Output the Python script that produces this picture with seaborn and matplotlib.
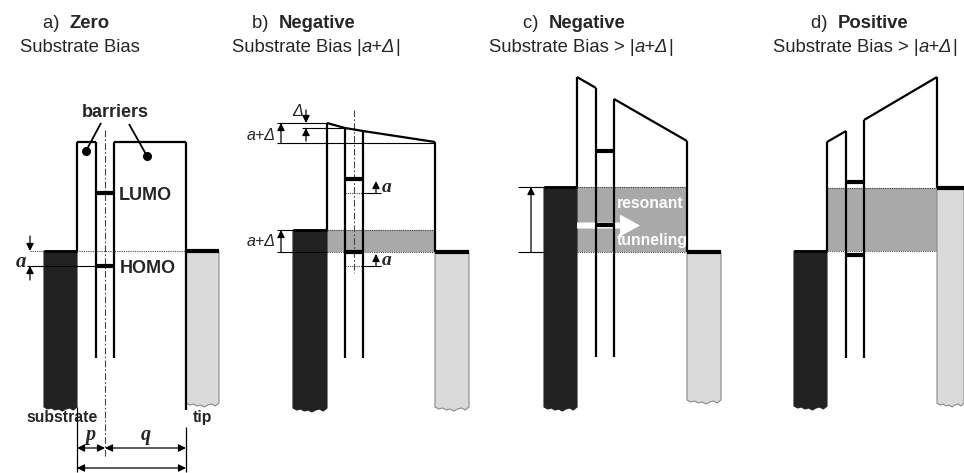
import matplotlib
matplotlib.use('Agg')
import matplotlib.pyplot as plt
import seaborn as sns

# ---- panel geometry, in picture pixels (y grows downward) ----
panel_letters = ['a)', 'b)', 'c)', 'd)']
panel_bias = ['Zero', 'Negative', 'Negative', 'Positive']
title_x = [43, 252, 523, 811]
subtitle_x = [20, 232, 489, 773]
subtitle_pre = ['Substrate Bias', 'Substrate Bias |', 'Substrate Bias > |', 'Substrate Bias > |']

sub_left = [44, 293, 544, 794]
sub_right = [77, 327, 577, 827]
sub_top = [251, 230, 187, 251]
sub_bottom = [407, 408, 407, 406]
tip_left = [186, 435, 687, 937]
tip_right = [219, 469, 721, 964]
tip_top = [251, 252, 252, 188]
tip_bottom = [403, 407, 400, 403]
well_left = [96, 345, 596, 846]
well_right = [114, 363, 614, 864]
well_bottom = [358, 358, 357, 358]
top_outer_left = [142, 123, 77, 142]
top_well_left = [142, 128, 88, 131]
top_well_right = [142, 131, 99, 120]
top_outer_right = [142, 142, 141, 77]
level_upper = [193, 179, 151, 182]
level_lower = [266, 252, 225, 255]
band_top = [251, 230, 187, 188]
band_bottom = [251, 252, 252, 251]

# torn lower edge of the electrodes
jag = [0, 2, 1, 3, 2, 4, 2, 1, 3, 0]

DARK = '#222222'
TIP = '#dadada'
BAND = '#a9a9a9'
LW = 1.6

sns.set_style('white')
plt.rcParams['font.family'] = ['Liberation Sans', 'DejaVu Sans']

fig = plt.figure(figsize=(9.64, 4.73), dpi=100)
ax = fig.add_axes([0, 0, 1, 1])
ax.set_xlim(0, 964)
ax.set_ylim(473, 0)
ax.axis('off')


def seg(x0, y0, x1, y1, lw=LW, color='k', z=4, **kw):
    ax.plot([x0, x1], [y0, y1], color=color, lw=lw, zorder=z,
            solid_capstyle='butt', **kw)


def arrow(x0, y0, x1, y1, style='-|>', lw=0.9):
    ax.annotate('', xy=(x1, y1), xytext=(x0, y0),
                arrowprops=dict(arrowstyle=style, color='k', lw=lw,
                                mutation_scale=11, shrinkA=0, shrinkB=0),
                zorder=6)


def block(x0, x1, top, bottom, fc, ec):
    n = len(jag)
    xs = [x0 + (x1 - x0) * k / (n - 1) for k in range(n)]
    px = [x0] + xs + [x1]
    py = [top] + [bottom + j for j in jag] + [top]
    ax.fill(px + [x0], py + [top], fc=fc, ec=ec, lw=0.8, zorder=3)


def rich_text(x, y, parts, size):
    t = ax.text(x, y, parts[0][0], fontsize=size, va='baseline', ha='left',
                zorder=7, **parts[0][1])
    for s, kw in parts[1:]:
        t = ax.annotate(s, xy=(1, 0), xycoords=t, va='bottom', ha='left',
                        fontsize=size, zorder=7, **kw)
    return t


serif_a = dict(family='Liberation Serif', style='italic', weight='bold')
dotted = dict(color='#444444', lw=0.8, ls=(0, (1, 1)), zorder=2)
dashdot = dict(color='#444444', lw=0.8, ls=(0, (6, 2, 1.5, 2)), zorder=2)

for i in range(4):
    # titles
    rich_text(title_x[i], 28.5, [(panel_letters[i] + '  ', {}),
                                 (panel_bias[i], dict(weight='bold'))], 13.3)
    if i == 0:
        rich_text(subtitle_x[i], 52, [(subtitle_pre[i], {})], 13.3)
    else:
        rich_text(subtitle_x[i], 52, [(subtitle_pre[i], {}),
                                      ('a+Δ', dict(style='italic')),
                                      ('|', {})], 13.3)

    # occupied band between the electrodes
    if band_bottom[i] > band_top[i]:
        ax.fill_between([sub_right[i], tip_left[i]], band_top[i], band_bottom[i],
                        color=BAND, lw=0, zorder=1)
        for yb in (band_top[i], band_bottom[i]):
            ax.plot([sub_right[i], tip_left[i]], [yb, yb], **dotted)

    # electrodes
    block(sub_left[i], sub_right[i], sub_top[i], sub_bottom[i], DARK, DARK)
    block(tip_left[i], tip_right[i], tip_top[i], tip_bottom[i], TIP, '#8a8a8a')
    seg(tip_left[i], tip_top[i], tip_right[i], tip_top[i], lw=3, z=5)
    seg(sub_left[i], sub_top[i], sub_right[i], sub_top[i], lw=2, z=5)

    # barrier walls and tops
    seg(sub_right[i], top_outer_left[i], sub_right[i], sub_top[i])
    seg(well_left[i], top_well_left[i], well_left[i], well_bottom[i])
    seg(well_right[i], top_well_right[i], well_right[i], well_bottom[i])
    seg(tip_left[i], top_outer_right[i], tip_left[i], tip_top[i])
    seg(sub_right[i], top_outer_left[i], well_left[i], top_well_left[i])
    seg(well_right[i], top_well_right[i], tip_left[i], top_outer_right[i])

    # molecular levels
    for yl in (level_upper[i], level_lower[i]):
        seg(well_left[i], yl, well_right[i], yl, lw=3, z=5)

# ---------------- panel a extras ----------------
ax.text(115.5, 117, 'barriers', fontsize=13, weight='bold', ha='center', va='baseline')
seg(101, 123, 86, 151, lw=1.3)
seg(129, 124, 147, 156, lw=1.3)
ax.plot([86, 147], [151, 156], 'o', color='k', ms=5.5, zorder=6)
ax.text(119, 200, 'LUMO', fontsize=13, weight='bold', va='baseline')
ax.text(120, 273, 'HOMO', fontsize=13, weight='bold', va='baseline')
ax.plot([30, 186], [251, 251], **dotted)
seg(27, 266, 96, 266, lw=0.8)
arrow(30, 236, 30, 251)
arrow(30, 280, 30, 266)
ax.text(21, 262, 'a', fontsize=15, ha='center', va='center', **serif_a)
ax.plot([105, 105], [130, 457], **dashdot)
seg(186, 251, 186, 410)
seg(77, 407, 77, 472, lw=0.9)
seg(186, 427, 186, 472, lw=0.9)
ax.text(26, 422, 'substrate', fontsize=11.3, weight='bold', va='baseline')
ax.text(193, 422, 'tip', fontsize=11.3, weight='bold', va='baseline')
arrow(77, 448, 105, 448, style='<|-|>')
arrow(105, 448, 186, 448, style='<|-|>')
arrow(77, 468, 186, 468, style='<|-|>')
ax.text(91, 440, 'p', fontsize=14.5, ha='center', va='baseline', **serif_a)
ax.text(146, 440, 'q', fontsize=14.5, ha='center', va='baseline', **serif_a)

# ---------------- panel b extras ----------------
seg(345, 128, 363, 131)
seg(277, 123, 327, 123, lw=0.8)
seg(277, 143, 435, 143, lw=0.8)
seg(302, 128, 345, 128, lw=0.8)
arrow(281, 143, 281, 123)
arrow(306, 110, 306, 123)
arrow(306, 141, 306, 128)
ax.text(276, 135, 'a+Δ', fontsize=11.5, style='italic', ha='right', va='center')
ax.text(298, 111, 'Δ', fontsize=11.5, style='italic', ha='center', va='center')
for y_new, y_old in ((179, 193), (252, 266)):
    ax.plot([345, 363], [y_old, y_old], **dotted)
    seg(363, y_old, 381, y_old, lw=0.8)
    arrow(376, y_old, 376, y_new + 2)
    ax.text(382, (y_old + y_new) / 2 + 1, 'a', fontsize=14, va='center', **serif_a)
seg(277, 230, 293, 230, lw=0.8)
seg(277, 252, 327, 252, lw=0.8)
arrow(281, 252, 281, 230)
ax.text(276, 241, 'a+Δ', fontsize=11.5, style='italic', ha='right', va='center')
ax.plot([354, 354], [110, 273], **dashdot)

# ---------------- panel c extras ----------------
seg(518, 187, 544, 187, lw=0.8)
seg(518, 252, 544, 252, lw=0.8)
arrow(531, 252, 531, 187)
ax.arrow(577, 225.5, 63, 0, width=6, head_width=22, head_length=20,
         length_includes_head=True, fc='white', ec='none', zorder=3.5)
ax.text(617, 208, 'resonant', fontsize=11.3, weight='bold', color='white', va='baseline', zorder=7)
ax.text(617, 245, 'tunneling', fontsize=11.3, weight='bold', color='white', va='baseline', zorder=7)

fig.savefig('out.png', dpi=100)
